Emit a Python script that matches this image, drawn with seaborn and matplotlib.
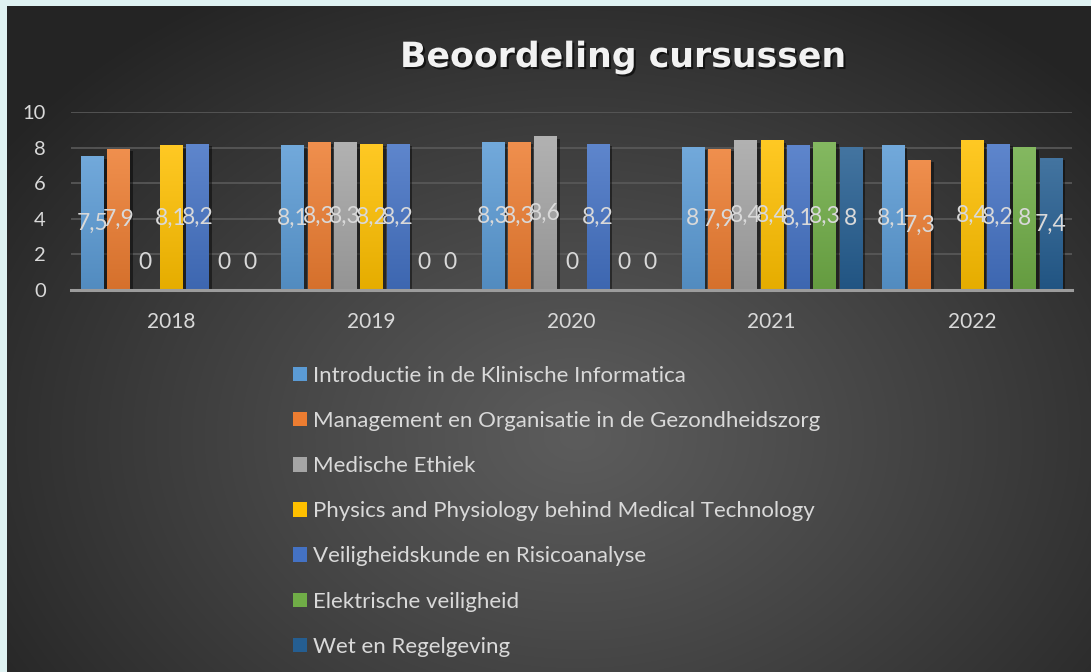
import numpy as np
import pandas as pd
import matplotlib
matplotlib.use("Agg")
import matplotlib.pyplot as plt
import matplotlib.patheffects as pe
from matplotlib.patches import Patch
from matplotlib.colors import to_rgb
import seaborn as sns

# ---- data -------------------------------------------------------------
years = ["2018", "2019", "2020", "2021", "2022"]
courses = [
    "Introductie in de Klinische Informatica",
    "Management en Organisatie in de Gezondheidszorg",
    "Medische Ethiek",
    "Physics and Physiology behind Medical Technology",
    "Veiligheidskunde en Risicoanalyse",
    "Elektrische veiligheid",
    "Wet en Regelgeving",
]
intro = [7.5, 8.1, 8.3, 8.0, 8.1]
management = [7.9, 8.3, 8.3, 7.9, 7.3]
ethiek = [0.0, 8.3, 8.6, 8.4, np.nan]
physics = [8.1, 8.2, 0.0, 8.4, 8.4]
veiligheid = [8.2, 8.2, 8.2, 8.1, 8.2]
elektrisch = [0.0, 0.0, 0.0, 8.3, 8.0]
wet = [0.0, 0.0, 0.0, 8.0, 7.4]
series = [intro, management, ethiek, physics, veiligheid, elektrisch, wet]

colors = ["#5b9bd5", "#ed7d31", "#a5a5a5", "#ffc000", "#4472c4", "#70ad47", "#255e91"]

rows = []
for course, vals in zip(courses, series):
    for yr, v in zip(years, vals):
        if not np.isnan(v):
            rows.append({"jaar": yr, "cursus": course, "cijfer": v})
df = pd.DataFrame(rows)

# ---- style ------------------------------------------------------------
sns.set_theme(style="dark")
plt.rcParams["font.family"] = ["Lato", "DejaVu Sans"]
text_col = "#d9d9d9"

W, H = 1091, 672
fig = plt.figure(figsize=(W / 100, H / 100), dpi=100)
fig.patch.set_facecolor("#dff2f2")

# radial dark background panel
bg = fig.add_axes([7 / W, 0, 1 - 7 / W, 1 - 6 / H], zorder=-5)
yy, xx = np.mgrid[0:H - 6, 0:W - 7]
d = np.sqrt(((xx - 570) / 700.0) ** 2 + ((yy - 430) / 520.0) ** 2)
d = np.clip(d, 0, 1)
shade = (0x5c + (0x24 - 0x5c) * d ** 1.1) / 255.0
bg.imshow(np.dstack([shade, shade, shade]), aspect="auto", interpolation="bilinear")
bg.set_axis_off()

# ---- bars ------------------------------------------------------------
ax = fig.add_axes([71 / W, 1 - 290 / H, (1072 - 71) / W, (290 - 112) / H])
ax.set_facecolor("none")
sns.barplot(
    data=df, x="jaar", y="cijfer", hue="cursus",
    order=years, hue_order=courses, palette=colors,
    width=0.92, gap=0.16, errorbar=None, legend=False, ax=ax,
    linewidth=0, edgecolor="none",
)

def mix(c, t, f):
    c = np.array(to_rgb(c)); t = np.array(to_rgb(t))
    return c + (t - c) * f

shadow = [pe.SimplePatchShadow(offset=(2.5, -1.5), shadow_rgbFace="black", alpha=0.45), pe.Normal()]
for cont, col in zip(ax.containers, colors):
    top = mix(col, "white", 0.14)
    bot = mix(col, "black", 0.10)
    grad = np.linspace(0, 1, 64)[:, None, None] * (bot - top) + top
    for bar in cont:
        h = bar.get_height()
        x0, w = bar.get_x(), bar.get_width()
        if np.isnan(h):
            continue
        if h > 0:
            bar.set_path_effects(shadow)
            ax.imshow(grad, extent=(x0, x0 + w, 0, h), aspect="auto",
                      interpolation="bilinear", zorder=3)
        label = f"{h:g}".replace(".", ",")
        if h > 0:
            ax.annotate(label, (x0 + w / 2, h / 2), ha="center", va="center",
                        fontsize=16.5, color=text_col, zorder=5)
        else:
            ax.annotate(label, (x0 + w / 2, 0), xytext=(0, 20), textcoords="offset points",
                        ha="center", va="center", fontsize=16.5, color=text_col, zorder=5)

ax.set_xlim(-0.5, 4.5)
ax.set_ylim(0, 10)
ax.set_yticks([0, 2, 4, 6, 8, 10])
ax.yaxis.grid(True, color="#5a5a5a", lw=1.2)
ax.xaxis.grid(False)
ax.set_axisbelow(True)
for s in ["top", "right", "left"]:
    ax.spines[s].set_visible(False)
ax.spines["bottom"].set_color("#9c9c9c")
ax.spines["bottom"].set_linewidth(2.2)
ax.spines["bottom"].set_zorder(6)
ax.tick_params(axis="both", length=0, labelcolor=text_col)
ax.tick_params(axis="y", pad=18, labelsize=14.5)
ax.tick_params(axis="x", pad=16, labelsize=15)
ax.set_xlabel("")
ax.set_ylabel("")

# ---- title -----------------------------------------------------------
fig.text(623 / W, 1 - 57 / H, "Beoordeling cursussen", ha="center", va="center",
         fontsize=25, fontweight="bold", color="#f2f2f2", family=["DejaVu Sans"],
         path_effects=[pe.withSimplePatchShadow(offset=(1.5, -1.5), shadow_rgbFace="black", alpha=0.6)])

# ---- legend ----------------------------------------------------------
handles = [Patch(facecolor=c, edgecolor="none") for c in colors]
leg = fig.legend(handles, courses, loc="upper left", bbox_to_anchor=(293 / W, 1 - 366 / H),
                 frameon=False, fontsize=16, labelcolor=text_col,
                 handlelength=0.62, handleheight=0.62, handletextpad=0.3, labelspacing=1.13,
                 borderpad=0, borderaxespad=0)

fig.savefig("out.png", dpi=100)
